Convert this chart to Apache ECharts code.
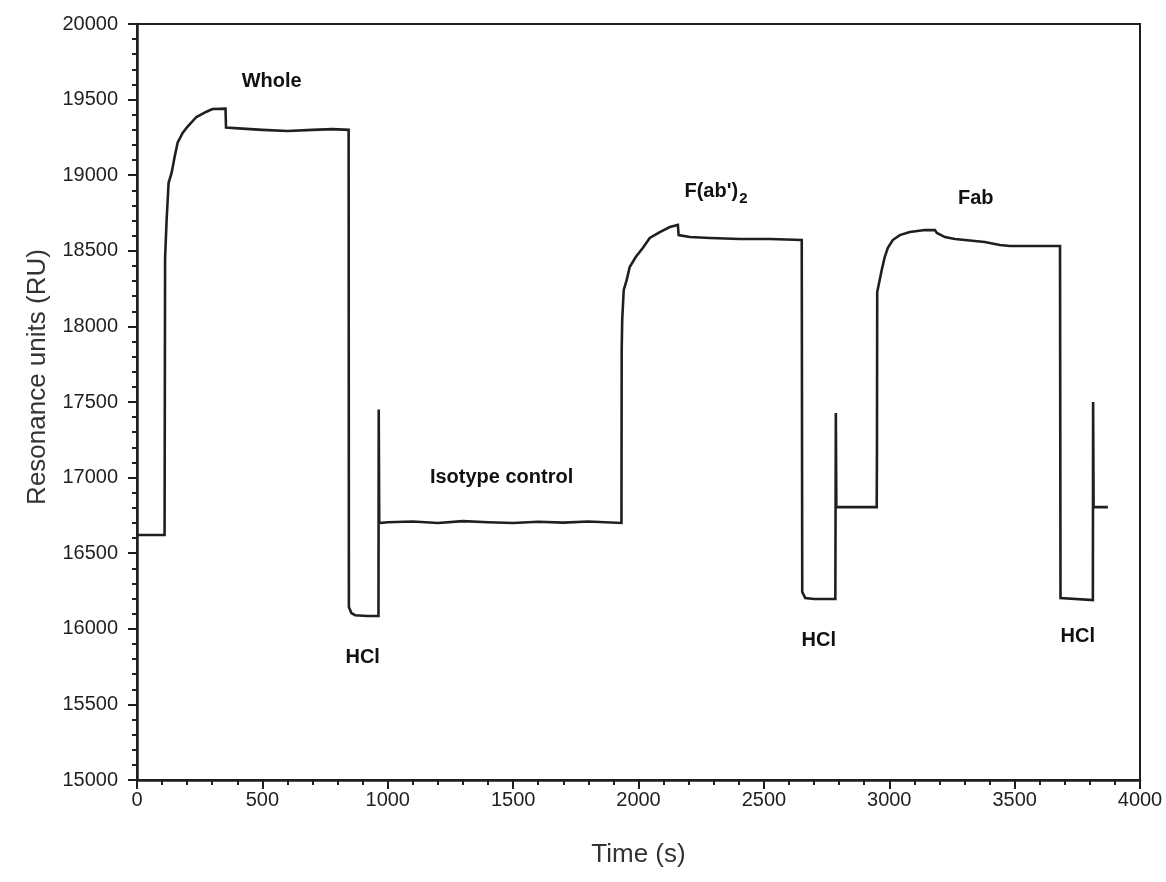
<!DOCTYPE html>
<html>
<head>
<meta charset="utf-8">
<script src="https://cdn.jsdelivr.net/npm/echarts@6/dist/echarts.min.js"></script>
<style>
  html, body { margin: 0; padding: 0; background: #fff; }
  #chart { width: 1166px; height: 882px; }
</style>
</head>
<body>
<div id="chart"></div>
<script>
// sensorgram pieces, [time (s), RU]
var baseline = [[0, 16620], [110, 16620]];
var whole = [[112, 18450], [116, 18460], [118, 18700], [126, 18950], [138, 19015], [150, 19120],
  [162, 19215], [182, 19280], [201, 19320], [237, 19385], [277, 19420], [301, 19438], [353, 19440],
  [355, 19315], [420, 19308], [500, 19300], [600, 19292], [700, 19300], [780, 19305], [844, 19300]];
var hcl1 = [[845, 16144], [855, 16104], [870, 16090], [920, 16085], [963, 16085]];
var spike1 = [[964, 17450], [966, 16700]];
var isotype = [[1000, 16705], [1100, 16710], [1200, 16700], [1300, 16712], [1400, 16705],
  [1500, 16700], [1600, 16708], [1700, 16702], [1800, 16710], [1932, 16700]];
var fab2 = [[1933, 17844], [1935, 18042], [1941, 18240], [1953, 18307], [1965, 18393], [1989, 18459],
  [2017, 18518], [2045, 18585], [2085, 18624], [2125, 18657], [2157, 18671], [2160, 18604],
  [2205, 18591], [2285, 18585], [2404, 18578], [2524, 18578], [2651, 18571]];
var hcl2 = [[2653, 16243], [2665, 16204], [2700, 16197], [2785, 16197]];
var spike2 = [[2787, 17427], [2789, 16805], [2950, 16805]];
var fab = [[2951, 17183], [2952, 18227], [2970, 18373], [2982, 18459], [2994, 18518], [3014, 18571],
  [3042, 18604], [3082, 18624], [3142, 18637], [3182, 18637], [3190, 18618], [3222, 18591],
  [3262, 18578], [3381, 18558], [3441, 18538], [3481, 18532], [3681, 18532]];
var hcl3 = [[3683, 16204], [3690, 16195], [3812, 16190]];
var spike3 = [[3813, 17500], [3815, 16805], [3872, 16805]];

// annotations [time, RU, text]
var notes = [
  [537, 19623, 'Whole'],
  [900, 15813, 'HCl'],
  [1454, 17004, 'Isotype control'],
  [2309, 18889, 'fab2'],
  [2719, 15926, 'HCl'],
  [3345, 18849, 'Fab'],
  [3752, 15946, 'HCl']
];

var xTicks = [0, 4000, 500];
var yTicks = [15000, 20000, 500];

var trace = [].concat(baseline, whole, hcl1, spike1, isotype, fab2, hcl2, spike2, fab, hcl3, spike3);

var ink = '#1f1f1f';
var font = '"Liberation Sans", Arial, Helvetica, sans-serif';

var chart = echarts.init(document.getElementById('chart'));
chart.setOption({
  animation: false,
  backgroundColor: '#fff',
  grid: {
    left: 137, right: 26, top: 24, bottom: 102,
    show: true, borderColor: ink, borderWidth: 2
  },
  xAxis: {
    type: 'value',
    min: xTicks[0], max: xTicks[1], interval: xTicks[2],
    name: 'Time (s)',
    nameLocation: 'middle',
    nameGap: 62,
    nameTextStyle: { fontFamily: font, fontSize: 26, color: '#333' },
    axisLine: { lineStyle: { color: ink, width: 2.5 } },
    axisTick: { inside: false, length: 9, lineStyle: { color: ink, width: 2 } },
    minorTick: { show: true, splitNumber: 5, length: 5, lineStyle: { color: ink, width: 2 } },
    axisLabel: { fontFamily: font, fontSize: 20, color: ink, margin: 10, formatter: function (v) { return String(v); } },
    splitLine: { show: false }
  },
  yAxis: {
    type: 'value',
    min: yTicks[0], max: yTicks[1], interval: yTicks[2],
    name: 'Resonance units (RU)',
    nameLocation: 'middle',
    nameGap: 86,
    nameTextStyle: { fontFamily: font, fontSize: 26, color: '#333', padding: [0, 0, 0, 50] },
    axisLine: { lineStyle: { color: ink, width: 2.5 } },
    axisTick: { inside: false, length: 9, lineStyle: { color: ink, width: 2 } },
    minorTick: { show: true, splitNumber: 5, length: 5, lineStyle: { color: ink, width: 2 } },
    axisLabel: { fontFamily: font, fontSize: 20, color: ink, margin: 19, formatter: function (v) { return String(v); } },
    splitLine: { show: false }
  },
  series: [
    {
      type: 'line',
      data: trace,
      showSymbol: false,
      lineStyle: { color: ink, width: 2.6, join: 'miter' },
      silent: true
    },
    {
      type: 'scatter',
      data: notes,
      symbolSize: 0,
      silent: true,
      itemStyle: { opacity: 1 },
      label: {
        show: true,
        position: 'inside',
        fontFamily: font,
        fontWeight: 'bold',
        fontSize: 20,
        color: '#111',
        formatter: function (p) {
          if (p.value[2] === 'fab2') return "F(ab')" + '{sub|2}';
          return p.value[2];
        },
        rich: {
          sub: { fontFamily: font, fontWeight: 'bold', fontSize: 15, color: '#111', padding: [14, 0, 0, 1] }
        }
      }
    }
  ]
});
</script>
</body>
</html>
